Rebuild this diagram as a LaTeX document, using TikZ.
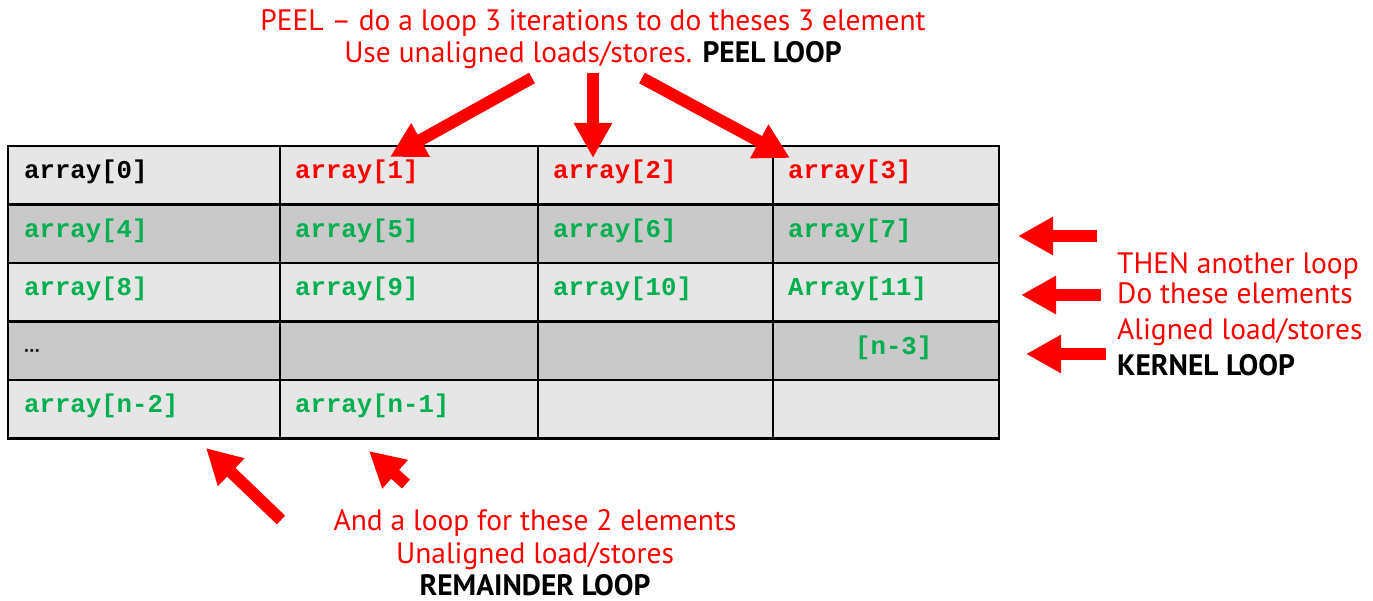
\documentclass[tikz,border=0pt]{standalone}
\usepackage{fontspec}
\setmonofont{Liberation Mono}
\newfontfamily\notefont[Ligatures=TeX]{PT Sans}
\usetikzlibrary{arrows.meta}
\definecolor{hotred}{HTML}{FF0000}
\definecolor{okgreen}{HTML}{00B050}
\definecolor{rowlight}{HTML}{E6E6E6}
\definecolor{rowdark}{HTML}{C9C9C9}
\tikzset{
  cellbox/.style={draw=black, line width=2.5pt, inner sep=0pt, anchor=north west, outer sep=0pt},
  lightcell/.style={cellbox, fill=rowlight},
  darkcell/.style={cellbox, fill=rowdark},
  celltext/.style={anchor=base west, inner sep=0pt, font=\ttfamily\bfseries\fontsize{25.7}{28}\selectfont},
  peeltext/.style={celltext, text=hotred},
  kerneltext/.style={celltext, text=okgreen},
  note/.style={inner sep=0pt, align=center, text=hotred, font=\notefont\fontsize{29.5}{32}\selectfont},
  blockarrow/.style={draw=hotred, line width=12pt, -{Triangle[width=36pt,length=35pt]}}
}
\begin{document}
\begin{tikzpicture}[x=1pt, y=-1pt]
\useasboundingbox (0,0) rectangle (1373,601);
\fill[white] (0,0) rectangle (1373,601);

% the array, four columns by five rows
\foreach \r/\top/\sty in {0/146/lightcell, 1/204.5/darkcell, 2/263/lightcell, 3/321.5/darkcell, 4/380/lightcell}{
  \foreach \c/\left/\w in {0/8/272, 1/280/258, 2/538/235, 3/773/226}{
    \node[\sty, minimum width=\w pt, minimum height=58.5pt] (c\r\c) at (\left,\top) {};
  }
}

% cell contents
\node[celltext] (t00) at ([xshift=16pt, yshift=-3.5pt]c00.west) {array[0]};
\node[peeltext] (t01) at ([xshift=15pt, yshift=-3.5pt]c01.west) {array[1]};
\node[peeltext] (t02) at ([xshift=15pt, yshift=-3.5pt]c02.west) {array[2]};
\node[peeltext] (t03) at ([xshift=15pt, yshift=-3.5pt]c03.west) {array[3]};
\node[kerneltext] (t10) at ([xshift=16pt, yshift=-3.5pt]c10.west) {array[4]};
\node[kerneltext] (t11) at ([xshift=15pt, yshift=-3.5pt]c11.west) {array[5]};
\node[kerneltext] (t12) at ([xshift=15pt, yshift=-3.5pt]c12.west) {array[6]};
\node[kerneltext] (t13) at ([xshift=15pt, yshift=-3.5pt]c13.west) {array[7]};
\node[kerneltext] (t20) at ([xshift=16pt, yshift=-3.5pt]c20.west) {array[8]};
\node[kerneltext] (t21) at ([xshift=15pt, yshift=-3.5pt]c21.west) {array[9]};
\node[kerneltext] (t22) at ([xshift=15pt, yshift=-3.5pt]c22.west) {array[10]};
\node[kerneltext] (t23) at ([xshift=15pt, yshift=-3.5pt]c23.west) {Array[11]};
\node[celltext, font=\bfseries\fontsize{22}{24}\selectfont] (t30) at ([xshift=15pt, yshift=-2pt]c30.west) {\ldots};
\node[kerneltext] (t33) at ([xshift=82pt, yshift=-3.5pt]c33.west) {[n-3]};
\node[kerneltext] (t40) at ([xshift=16pt, yshift=-3.5pt]c40.west) {array[n-2]};
\node[kerneltext] (t41) at ([xshift=15pt, yshift=-3.5pt]c41.west) {array[n-1]};

% annotations (anchored on the baseline of their last line)
\node[note, anchor=base] (peel) at (593,63) {PEEL – do a loop 3 iterations to do theses 3 element\\
  Use unaligned loads/stores. {\color{black}\bfseries PEEL LOOP}};
\node[note, anchor=base west, align=left] (kernel) at (1117,376) {THEN another loop\\[-2pt]
  Do these elements\\[4pt]
  Aligned load/stores\\[4.7pt]
  {\color{black}\bfseries KERNEL LOOP}};
\node[note, anchor=base] (remainder) at (535,595) {And a loop for these 2 elements\\[1pt]
  Unaligned load/stores\\
  {\color{black}\bfseries REMAINDER LOOP}};

% arrow ends
\coordinate (pa) at (532,78);  \coordinate (pb) at (390,157);
\coordinate (qa) at (593,73);  \coordinate (qb) at (593,158);
\coordinate (ra) at (642,78);  \coordinate (rb) at (790,158);
\coordinate (ka) at (1097,236); \coordinate (kb) at (1018,236);
\coordinate (la) at (1101,295); \coordinate (lb) at (1021,295);
\coordinate (ma) at (1106,354); \coordinate (mb) at (1026,354);
\coordinate (ua) at (281,520); \coordinate (ub) at (206,448);
\coordinate (va) at (406,484); \coordinate (vb) at (369,451);

\draw[blockarrow] (pa) -- (pb);
\draw[blockarrow] (qa) -- (qb);
\draw[blockarrow] (ra) -- (rb);
\draw[blockarrow] (ka) -- (kb);
\draw[blockarrow] (la) -- (lb);
\draw[blockarrow] (ma) -- (mb);
\draw[blockarrow] (ua) -- (ub);
\draw[blockarrow] (va) -- (vb);
\end{tikzpicture}
\end{document}
